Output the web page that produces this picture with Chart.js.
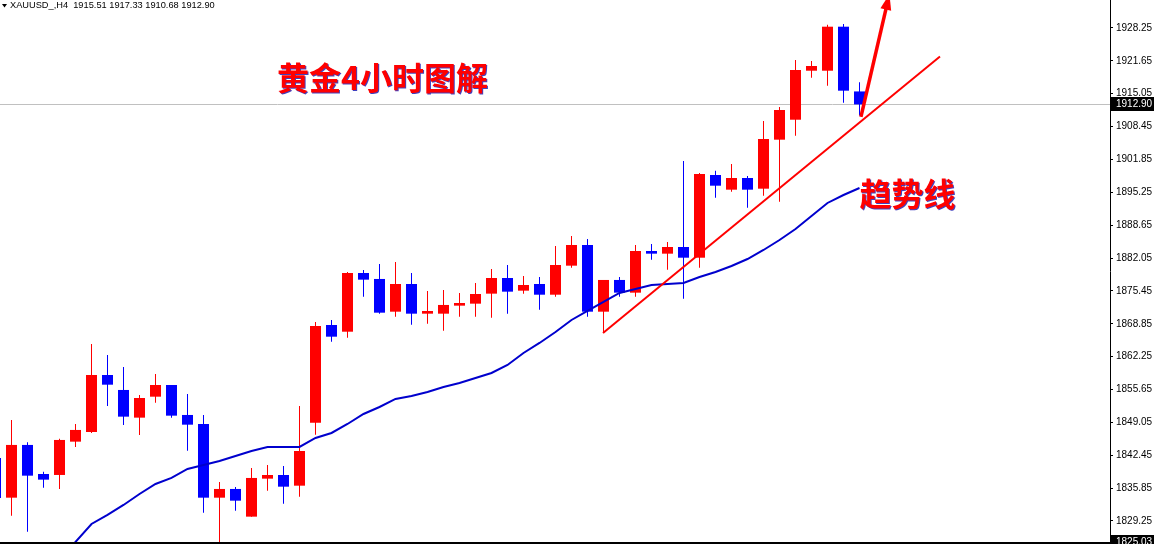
<!DOCTYPE html>
<html>
<head>
<meta charset="utf-8">
<script src="https://cdn.jsdelivr.net/npm/chart.js@4.4.1/dist/chart.umd.min.js"></script>
<style>
  html, body { margin: 0; padding: 0; background: #ffffff; overflow: hidden; }
  canvas { display: block; }
</style>
</head>
<body>
<canvas id="chart" width="1154" height="544"></canvas>
<script>
// ---- XAUUSD H4 candles (bar index -1 is the partly visible first bar) ----
const symbolTitle = 'XAUUSD_,H4';
const chartTitle = '黄金4小时图解';
const trendLabel = '趋势线';

const opens = [1841.90, 1833.93, 1844.52, 1838.69, 1838.49, 1845.18, 1847.12, 1858.57, 1855.56, 1850.00,
  1854.21, 1856.56, 1850.54, 1848.73, 1833.93, 1835.68, 1830.12, 1837.75, 1838.49, 1836.34,
  1848.99, 1868.61, 1867.26, 1879.05, 1877.85, 1871.28, 1876.84, 1870.88, 1870.88, 1872.49,
  1872.89, 1874.90, 1878.05, 1875.50, 1876.84, 1874.69, 1880.52, 1884.67, 1871.28, 1877.65,
  1875.10, 1883.47, 1882.93, 1884.27, 1882.12, 1898.73, 1895.78, 1898.13, 1895.98, 1905.82,
  1909.83, 1919.67, 1919.67, 1928.51, 1915.51];
const highs = [1843.51, 1849.54, 1845.06, 1839.15, 1845.78, 1848.73, 1864.79, 1862.59, 1860.18, 1854.55,
  1858.77, 1856.56, 1854.75, 1850.54, 1837.08, 1836.08, 1839.90, 1840.50, 1840.30, 1852.35,
  1869.21, 1869.61, 1879.25, 1879.65, 1880.86, 1881.26, 1879.05, 1875.44, 1875.64, 1875.04,
  1877.04, 1879.85, 1880.66, 1878.45, 1878.25, 1884.47, 1886.48, 1885.88, 1877.65, 1878.25,
  1884.67, 1884.87, 1885.28, 1901.54, 1899.13, 1899.59, 1900.94, 1898.53, 1909.57, 1912.38,
  1921.82, 1921.62, 1928.91, 1929.05, 1917.33];
const lows = [1832.87, 1830.32, 1827.10, 1835.94, 1835.68, 1844.11, 1846.92, 1852.35, 1848.53, 1846.52,
  1853.01, 1850.00, 1843.37, 1830.92, 1823.50, 1831.32, 1830.12, 1835.34, 1832.73, 1834.13,
  1846.58, 1865.26, 1866.06, 1874.29, 1870.88, 1870.28, 1868.67, 1868.87, 1867.47, 1870.28,
  1870.28, 1870.08, 1870.88, 1874.90, 1871.68, 1874.29, 1880.12, 1870.28, 1867.00, 1874.29,
  1874.29, 1881.72, 1879.71, 1873.89, 1880.12, 1894.17, 1895.38, 1892.16, 1894.57, 1893.37,
  1906.62, 1918.27, 1916.66, 1913.25, 1910.68];
const closes = [1833.87, 1844.52, 1838.35, 1837.55, 1845.52, 1847.53, 1858.57, 1856.62, 1850.20, 1853.95,
  1856.56, 1850.40, 1848.59, 1833.93, 1835.68, 1833.33, 1837.89, 1838.49, 1836.14, 1843.31,
  1868.41, 1866.26, 1879.05, 1877.71, 1871.08, 1876.84, 1870.88, 1871.42, 1872.63, 1873.03,
  1874.83, 1878.05, 1875.30, 1876.64, 1874.69, 1880.66, 1884.67, 1871.28, 1877.65, 1875.10,
  1883.47, 1882.93, 1884.27, 1882.12, 1898.93, 1896.58, 1898.13, 1895.78, 1905.96, 1911.78,
  1919.81, 1920.62, 1928.51, 1915.66, 1912.90];

// moving average, one value per bar from bar 0
const maValues = [1811.38, 1814.39, 1817.81, 1821.42, 1825.04, 1828.65, 1830.46, 1832.47, 1834.67, 1836.68,
  1837.89, 1839.69, 1840.50, 1841.30, 1842.31, 1843.31, 1844.11, 1844.11, 1844.11, 1845.92,
  1846.92, 1848.73, 1850.74, 1852.14, 1853.75, 1854.35, 1855.16, 1856.16, 1856.96, 1857.97,
  1858.97, 1860.58, 1862.99, 1865.00, 1867.20, 1869.61, 1871.42, 1873.23, 1875.04, 1875.84,
  1876.64, 1876.84, 1877.04, 1878.25, 1879.25, 1880.46, 1881.86, 1883.67, 1885.68, 1887.89,
  1890.50, 1893.11, 1894.71, 1896.12];

// hand-drawn trend line and arrow (bar index, price)
const trendBars = [36.97, 58.03];
const trendPrices = [1867.00, 1922.52];
const arrowBars = [53.09, 54.87];
const arrowPrices = [1910.38, 1935.07];

// price axis
const priceTicks = [1829.25, 1835.85, 1842.45, 1849.05, 1855.65, 1862.25, 1868.85, 1875.45,
  1882.05, 1888.65, 1895.25, 1901.85, 1908.45, 1915.05, 1921.65, 1928.25];
const priceMin = 1825.03;
const priceMax = 1933.87;
const barMin = -0.71875;
const barMax = 68.65625;

const UP = '#ff0000';
const DOWN = '#0000ff';
const MA_COLOR = '#0000cd';

const lastIdx = closes.length - 1;
const lastPrice = closes[lastIdx];
const barIndex = opens.map((_, i) => i - 1);

const wickData = barIndex.map((k, i) => ({ x: k, y: [lows[i], highs[i]] }));
const bodyData = barIndex.map((k, i) => ({ x: k, y: [opens[i], closes[i]] }));
const maData = maValues.map((v, i) => ({ x: i, y: v }));
const trendData = trendBars.map((k, i) => ({ x: k, y: trendPrices[i] }));
const arrowData = arrowBars.map((k, i) => ({ x: k, y: arrowPrices[i] }));

const candleColor = (c) => closes[c.dataIndex] >= opens[c.dataIndex] ? UP : DOWN;

function priceBox(ctx, scale, price, right) {
  const y = scale.getPixelForValue(price);
  ctx.fillStyle = '#000000';
  ctx.fillRect(scale.left + 1, Math.round(y) - 7, right - scale.left - 1, 14);
  ctx.fillStyle = '#ffffff';
  ctx.font = '10px "Liberation Sans", Arial, sans-serif';
  ctx.textAlign = 'left';
  ctx.textBaseline = 'middle';
  ctx.fillText(price.toFixed(2), scale.left + 6, Math.round(y) + 0.5);
}

const overlay = {
  id: 'overlay',
  beforeDatasetsDraw(chart) {
    const { ctx, chartArea, scales } = chart;
    // current price line
    const y = Math.round(scales.y.getPixelForValue(lastPrice)) + 0.5;
    ctx.save();
    ctx.strokeStyle = '#c0c0c0';
    ctx.lineWidth = 1;
    ctx.beginPath();
    ctx.moveTo(chartArea.left, y);
    ctx.lineTo(chartArea.right, y);
    ctx.stroke();
    ctx.restore();
  },
  afterDatasetsDraw(chart) {
    const { ctx, chartArea } = chart;
    // arrow head at the end of the arrow line
    const pts = chart.getDatasetMeta(4).data;
    const a = pts[0], b = pts[1];
    const ang = Math.atan2(b.y - a.y, b.x - a.x);
    const len = 16, half = 5.5;
    ctx.save();
    ctx.beginPath();
    ctx.rect(chartArea.left, chartArea.top, chartArea.right - chartArea.left, chartArea.bottom - chartArea.top);
    ctx.clip();
    ctx.fillStyle = UP;
    ctx.beginPath();
    ctx.moveTo(b.x, b.y);
    ctx.lineTo(b.x - len * Math.cos(ang) + half * Math.sin(ang), b.y - len * Math.sin(ang) - half * Math.cos(ang));
    ctx.lineTo(b.x - len * Math.cos(ang) - half * Math.sin(ang), b.y - len * Math.sin(ang) + half * Math.cos(ang));
    ctx.closePath();
    ctx.fill();
    ctx.restore();
  },
  afterDraw(chart) {
    const { ctx, chartArea, scales } = chart;
    const yScale = scales.y;
    ctx.save();

    // bottom frame line
    ctx.fillStyle = '#000000';
    ctx.fillRect(0, chartArea.bottom, chartArea.right + 1, 2);

    // price labels on the axis
    priceBox(ctx, yScale, lastPrice, chart.width);
    priceBox(ctx, yScale, priceMin, chart.width);

    // header: symbol and last bar OHLC
    ctx.fillStyle = '#000000';
    ctx.beginPath();
    ctx.moveTo(2, 4); ctx.lineTo(7, 4); ctx.lineTo(4.5, 7.5); ctx.closePath();
    ctx.fill();
    const header = symbolTitle + '  ' + [opens[lastIdx], highs[lastIdx], lows[lastIdx], closes[lastIdx]]
      .map(v => v.toFixed(2)).join(' ');
    ctx.font = '10px "Liberation Sans", Arial, sans-serif';
    const w = ctx.measureText(header).width;
    const size = 10 * 205 / w;
    ctx.font = size.toFixed(2) + 'px "Liberation Sans", Arial, sans-serif';
    ctx.textAlign = 'left';
    ctx.textBaseline = 'alphabetic';
    ctx.fillText(header, 10, 8);

    // annotation texts
    ctx.font = 'bold 32px "Noto Sans CJK SC", sans-serif';
    ctx.textAlign = 'center';
    ctx.textBaseline = 'middle';
    ctx.shadowColor = 'rgba(0, 0, 170, 0.75)';
    ctx.shadowOffsetX = 1;
    ctx.shadowOffsetY = 1;
    ctx.shadowBlur = 0;
    ctx.fillStyle = '#ff0000';
    ctx.fillText(chartTitle, chartArea.left + 382.5, chartArea.top + 78);
    ctx.fillText(trendLabel, chartArea.left + 907.5, chartArea.top + 194);
    ctx.restore();
  }
};

new Chart(document.getElementById('chart'), {
  type: 'bar',
  data: {
    datasets: [
      { type: 'bar', data: wickData, backgroundColor: candleColor, grouped: false,
        maxBarThickness: 1, borderWidth: 0, inflateAmount: 0, order: 4 },
      { type: 'bar', data: bodyData, backgroundColor: candleColor, grouped: false,
        maxBarThickness: 11, borderWidth: 0, inflateAmount: 0, order: 3 },
      { type: 'line', data: maData, borderColor: MA_COLOR, borderWidth: 2,
        pointRadius: 0, tension: 0, order: 2 },
      { type: 'line', data: trendData, borderColor: UP, borderWidth: 2,
        pointRadius: 0, tension: 0, order: 1 },
      { type: 'line', data: arrowData, borderColor: UP, borderWidth: 3.5,
        pointRadius: 0, tension: 0, order: 0 }
    ]
  },
  options: {
    responsive: false,
    animation: false,
    devicePixelRatio: 1,
    layout: { padding: { left: 0, right: 0, top: 0, bottom: 2 } },
    plugins: { legend: { display: false }, tooltip: { enabled: false } },
    scales: {
      x: { type: 'linear', min: barMin, max: barMax, display: false, offset: false },
      y: {
        type: 'linear',
        position: 'right',
        min: priceMin,
        max: priceMax,
        afterBuildTicks(s) { s.ticks = priceTicks.map(v => ({ value: v })); },
        afterFit(s) { s.width = 44; s.paddingTop = 0; s.paddingBottom = 0; },
        grid: { drawOnChartArea: false, drawTicks: true, tickLength: 3, color: '#000000' },
        border: { display: true, color: '#000000', width: 1 },
        ticks: {
          color: '#000000',
          padding: 3,
          font: { family: '"Liberation Sans", Arial, sans-serif', size: 10 },
          callback: v => Number(v).toFixed(2)
        }
      }
    }
  },
  plugins: [overlay]
});
</script>
</body>
</html>
